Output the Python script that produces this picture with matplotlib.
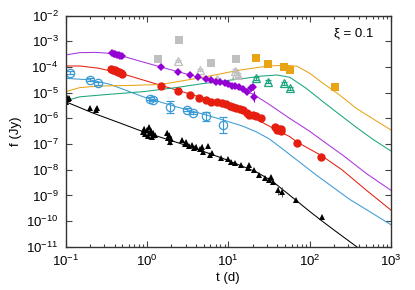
import numpy as np
import matplotlib
matplotlib.use('Agg')
import matplotlib.pyplot as plt
from matplotlib.ticker import LogLocator, LogFormatterMathtext, NullLocator

plt.rcParams['font.family'] = ['Liberation Sans', 'DejaVu Sans']
plt.rcParams['mathtext.fontset'] = 'custom'
plt.rcParams['mathtext.rm'] = 'Liberation Sans'
plt.rcParams['mathtext.it'] = 'Liberation Sans:italic'

# ---- data points (t in days, f in Jy), errors in dex ----
blk_t = [0.1, 0.105, 0.108, 0.11, 0.2, 0.235, 0.245,
         0.9, 0.93, 0.95, 1.0, 1.02, 1.05, 1.1, 1.12, 1.15, 1.2, 1.25,
         1.75, 1.8, 1.85, 1.9, 2.0,
         2.7, 2.9, 3.0, 3.3, 3.6, 3.8, 4.0, 4.5, 4.7, 4.9, 5.6, 5.9, 6.4,
         8.2, 9.9, 10.9, 12, 14.5, 17.5, 18, 21, 24, 28, 32, 34, 35, 41, 46, 68, 144]
blk_f = [4.5e-6, 6.5e-6, 5.5e-6, 6e-6, 2.6e-6, 2.1e-6, 2.6e-6,
         3e-7, 4e-7, 2.4e-7, 3.5e-7, 2e-7, 4.5e-7, 2.6e-7, 3.2e-7, 1.9e-7, 2.8e-7, 2.2e-7,
         2.8e-7, 1.8e-7, 2.2e-7, 1.2e-7, 1.6e-7,
         1.4e-7, 1.0e-7, 1.2e-7, 8.5e-8, 9e-8, 7e-8, 8e-8, 6.5e-8, 8e-8, 5e-8, 8.3e-8, 3.7e-8, 4.4e-8,
         2.8e-8, 2.6e-8, 2.0e-8, 1.8e-8, 1.5e-8, 1.15e-8, 1.5e-8, 9.8e-9, 6.3e-9, 4.7e-9, 4.0e-9,
         5.4e-9, 3.4e-9, 1.6e-9, 1.4e-9, 6.6e-10, 1.4e-10]
blk_err = [0.08, 0.08, 0.08, 0.08, 0.06, 0.06, 0.06,
           0.1, 0.1, 0.1, 0.1, 0.1, 0.1, 0.1, 0.1, 0.1, 0.1, 0.1,
           0.1, 0.1, 0.1, 0.1, 0.1,
           0.08, 0.08, 0.08, 0.08, 0.08, 0.08, 0.08, 0.08, 0.08, 0.08, 0.08, 0.08, 0.08,
           0.06, 0.06, 0.06, 0.06, 0.06, 0.06, 0.06, 0.06, 0.06, 0.08, 0.08,
           0.08, 0.08, 0.2, 0.2, 0.05, 0.08]

blu_t = [0.113, 0.2, 0.25, 1.09, 1.19, 1.9, 3.1, 3.7, 5.4, 8.6]
blu_f = [6e-5, 3.2e-5, 2.3e-5, 5.9e-6, 5.2e-6, 2.7e-6, 2.2e-6, 1.6e-6, 1.2e-6, 5.5e-7]
blu_err = [0.05, 0.05, 0.05, 0.05, 0.05, 0.23, 0.05, 0.05, 0.17, 0.3]

red_t = [0.36, 0.38, 0.40, 0.42, 0.44, 0.46, 0.48, 0.50,
         1.48, 2.4, 3.4, 4.4, 5.4, 6.2, 7.2, 8.3, 9.3, 10.4, 11.5, 12.5, 13.8, 15.2,
         17, 18, 20, 22, 25.6, 38, 40, 42, 44, 45, 70, 140]
red_f = [8.3e-5, 7.8e-5, 7.4e-5, 7.0e-5, 6.6e-5, 6.2e-5, 5.8e-5, 5.4e-5,
         1.9e-5, 1.2e-5, 8.3e-6, 6.5e-6, 5.2e-6, 4.5e-6, 4.2e-6, 3.9e-6, 3.5e-6, 3.0e-6, 2.8e-6,
         2.6e-6, 2.3e-6, 2.1e-6, 1.6e-6, 1.4e-6, 1.35e-6, 1.25e-6, 1.0e-6, 4.8e-7, 3.5e-7, 4.0e-7,
         3.2e-7, 3.8e-7, 1.07e-7, 3.2e-8]

pur_t = [0.37, 0.39, 0.41, 0.43, 0.45, 0.47, 0.49,
         1.48, 2.4, 3.4, 4.3, 5.4, 6.2, 7.1, 8.0, 9.0, 10, 11, 12, 13.5, 15, 16.8, 19, 20, 21]
pur_f = [3.5e-4, 3.3e-4, 3.2e-4, 3.0e-4, 2.9e-4, 2.8e-4, 2.7e-4,
         1e-4, 6.6e-5, 4.9e-5, 4e-5, 3.3e-5, 3.0e-5, 2.7e-5, 2.5e-5, 2.3e-5, 2.1e-5, 1.9e-5,
         1.8e-5, 1.6e-5, 1.4e-5, 1.1e-5, 1.5e-5, 1.6e-5, 7e-6]
pur_err = [0.03, 0.03, 0.03, 0.03, 0.03, 0.03, 0.03,
           0.03, 0.03, 0.03, 0.03, 0.03, 0.03, 0.03, 0.03, 0.03, 0.03, 0.03,
           0.03, 0.03, 0.03, 0.05, 0.1, 0.1, 0.22]

gsq_t = [1.37, 2.5, 6.2, 12.3]
gsq_f = [2e-4, 1.1e-3, 1.5e-4, 2e-4]
gtr_t = [2.4, 4.45, 7.3, 12.0, 12.5, 13.0]
gtr_f = [1.7e-4, 7.6e-5, 3.3e-5, 7.2e-5, 5.5e-5, 4.9e-5]
gtr_err = [0.04, 0.04, 0.04, 0.06, 0.06, 0.06]

org_t = [22, 31, 48, 57, 205]
org_f = [2.2e-4, 1.3e-4, 9.8e-5, 7.6e-5, 1.6e-5]
grn_t = [22, 31, 48, 57]
grn_f = [3.6e-5, 2.7e-5, 2.3e-5, 1.5e-5]
grn_err = [0.06, 0.06, 0.06, 0.06]

# ---- model curves (t, log10 f) ----
blk_mt = [0.1, 0.22, 0.44, 0.9, 3.4, 8.6, 22, 35, 47, 70, 100, 140, 200, 380, 1000]
blk_ml = [-5.35, -5.80, -6.15, -6.52, -7.10, -7.56, -8.08, -8.45, -8.78, -9.22, -9.62, -9.98, -10.35, -11.0, -11.9]
blu_mt = [0.1, 0.2, 0.35, 0.9, 2.3, 4.5, 8.6, 15, 22, 32, 47, 120, 310, 1000]
blu_ml = [-4.44, -4.50, -4.67, -5.16, -5.55, -5.80, -6.06, -6.30, -6.52, -6.80, -7.20, -8.20, -9.15, -10.14]
red_mt = [0.1, 0.15, 0.26, 0.56, 1.44, 3.7, 10, 18, 39, 57, 70, 140, 250, 500, 1000]
red_ml = [-3.96, -3.96, -4.05, -4.31, -4.70, -5.09, -5.50, -5.88, -6.45, -6.71, -6.92, -7.45, -8.0, -8.8, -9.57]
pur_mt = [0.1, 0.15, 0.24, 0.35, 0.56, 1.44, 3.4, 5.4, 10, 20, 30, 57, 100, 146, 260, 500, 1000]
pur_ml = [-3.53, -3.44, -3.43, -3.47, -3.62, -3.99, -4.31, -4.48, -4.72, -5.05, -5.40, -6.0, -6.5, -6.88, -7.45, -8.15, -8.80]
grn_mt = [0.1, 0.15, 0.35, 0.9, 2.3, 4.5, 10, 18, 24, 40, 57, 91, 146, 234, 376, 603, 1000]
grn_ml = [-5.31, -5.16, -5.06, -4.96, -4.80, -4.66, -4.52, -4.42, -4.36, -4.31, -4.40, -4.83, -5.35, -5.85, -6.35, -6.82, -7.27]
org_mt = [0.1, 0.15, 0.26, 0.56, 1.48, 4.9, 13.8, 31, 50, 70, 100, 146, 234, 376, 603, 1000]
org_ml = [-4.96, -4.80, -4.74, -4.72, -4.68, -4.40, -4.12, -3.96, -3.93, -3.97, -4.24, -4.63, -5.09, -5.61, -6.02, -6.45]

c_blk = 'black'
c_blu = '#3b9ad6'
c_red = '#e51e10'
c_pur = '#9400d3'
c_grn = '#1aa57e'
c_org = '#e9a416'
c_gry = '#c0c0c0'


def dexerr(f, e):
    f = np.array(f)
    e = np.array(e)
    return [f - f * 10 ** (-e), f * 10 ** e - f]


fig = plt.figure(figsize=(4.15, 2.9), dpi=100)
ax = fig.add_axes([0.158, 0.149, 0.784, 0.797])

lw = 0.75
ax.plot(blk_mt, 10 ** np.array(blk_ml), color=c_blk, lw=lw)
ax.plot(blu_mt, 10 ** np.array(blu_ml), color=c_blu, lw=lw)
ax.plot(red_mt, 10 ** np.array(red_ml), color=c_red, lw=lw)
ax.plot(pur_mt, 10 ** np.array(pur_ml), color=c_pur, lw=lw, alpha=0.8)
ax.plot(grn_mt, 10 ** np.array(grn_ml), color=c_grn, lw=lw)
ax.plot(org_mt, 10 ** np.array(org_ml), color=c_org, lw=lw)

ax.plot(gsq_t, gsq_f, 's', color=c_gry, ms=6, mew=0)
ax.errorbar(gtr_t, gtr_f, yerr=dexerr(gtr_f, gtr_err), fmt='^', color=c_gry, mfc='none',
            ms=5.5, mew=0.9, elinewidth=0.8, capsize=2.5)
ax.plot(org_t, org_f, 's', color=c_org, ms=6, mew=0)
ax.errorbar(grn_t, grn_f, yerr=dexerr(grn_f, grn_err), fmt='^', color=c_grn, mfc='none',
            ms=5.5, mew=0.9, elinewidth=0.8, capsize=2.5)
ax.errorbar(pur_t, pur_f, yerr=dexerr(pur_f, pur_err), fmt='D', color=c_pur,
            ms=4.5, mew=0, elinewidth=0.8, capsize=2.5)
ax.plot(red_t, red_f, 'o', color=c_red, ms=6, mew=0)
ax.errorbar(blu_t, blu_f, yerr=dexerr(blu_f, blu_err), fmt='o', color=c_blu, mfc='none',
            ms=6, mew=0.9, elinewidth=0.8, capsize=3)
ax.errorbar(blk_t, blk_f, yerr=dexerr(blk_f, blk_err), fmt='^', color=c_blk,
            ms=5, mew=0, elinewidth=0.7, capsize=2.2, ecolor='#555555')

ax.set_xscale('log')
ax.set_yscale('log')
ax.set_xlim(0.1, 1000)
ax.set_ylim(1e-11, 1e-2)

ax.xaxis.set_major_locator(LogLocator(base=10, numticks=10))
ax.xaxis.set_minor_locator(LogLocator(base=10, subs=np.arange(2, 10), numticks=20))
ax.xaxis.set_major_formatter(LogFormatterMathtext())
ax.yaxis.set_major_locator(LogLocator(base=10, numticks=20))
ax.yaxis.set_minor_locator(NullLocator())
ax.yaxis.set_major_formatter(LogFormatterMathtext())

ax.tick_params(which='both', direction='in', top=True, right=True, labelsize=9.5,
               color='#444444', width=0.8)
ax.tick_params(which='major', length=4.5, pad=5)
ax.tick_params(which='minor', length=2.5)
for s in ax.spines.values():
    s.set_linewidth(1.0)
    s.set_color('#333333')

ax.set_xlabel('t (d)', fontsize=9.5, labelpad=2)
ax.set_ylabel('f (Jy)', fontsize=9.5, labelpad=3)
ax.text(0.885, 0.925, 'ξ = 0.1', transform=ax.transAxes, ha='center', va='center', fontsize=9.5)

fig.savefig('out.png', dpi=100)
